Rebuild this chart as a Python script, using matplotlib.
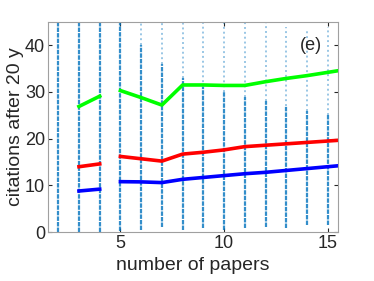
import numpy as np
import matplotlib
matplotlib.use('Agg')
import matplotlib.pyplot as plt

plt.rcParams['font.family'] = ['Liberation Sans', 'DejaVu Sans']

# number of papers for the three curves (gap between 4 and 5)
papers = [3, 4, np.nan, 5, 6, 7, 8, 9, 10, 11, 12, 13, 14, 15, 16]
top_curve = [26.9, 29.1, np.nan, 30.3, 28.8, 27.2, 31.5, 31.5, 31.4, 31.4, 32.2, 32.9, 33.5, 34.2, 34.9]
mid_curve = [14.0, 14.6, np.nan, 16.2, 15.7, 15.2, 16.7, 17.1, 17.6, 18.3, 18.6, 18.9, 19.2, 19.5, 19.8]
low_curve = [8.8, 9.2, np.nan, 10.8, 10.75, 10.6, 11.3, 11.7, 12.1, 12.5, 12.8, 13.2, 13.6, 14.0, 14.4]

# scatter columns: dense part and sparse upper part
col_x = [2, 3, 4, 5, 6, 7, 8, 9, 10, 11, 12, 13, 14, 15]
dense_top = [45, 45, 45, 45, 40, 36, 33, 31, 30, 29, 28, 27, 26, 25]
sparse_top = [45, 45, 45, 45, 45, 45, 45, 45, 45, 45, 45, 44, 43, 44]
col_bottom = [0, 0, 0, 0.3, 0.5, 1.0, 0.5, 0.8, 0.5, 0.8, 1.0, 0.8, 1.5, 1.5]

fig = plt.figure(figsize=(3.74, 2.81), dpi=100)
ax = fig.add_axes([0.128, 0.174, 0.776, 0.748])

dot_color = '#0072BD'
ax.vlines(col_x, col_bottom, dense_top, colors=dot_color, linewidth=1.6,
          linestyles=(0, (2, 0.5)), alpha=0.8)
ax.vlines(col_x, dense_top, sparse_top, colors=dot_color, linewidth=1.4,
          linestyles=(0, (1, 1.5)), alpha=0.4)

ax.plot(papers, top_curve, color=(0, 1, 0), linewidth=2.6)
ax.plot(papers, mid_curve, color=(1, 0, 0), linewidth=2.6)
ax.plot(papers, low_curve, color=(0, 0, 1), linewidth=2.6)

ax.set_xlim(1.5, 15.5)
ax.set_ylim(0, 45)
ax.set_xticks([5, 10, 15])
ax.set_yticks([0, 10, 20, 30, 40])
ax.tick_params(direction='in', top=True, right=True, labelsize=13,
               length=3, pad=2, color='#262626', labelcolor='#262626')
for s in ax.spines.values():
    s.set_color('#a0a0a0')
    s.set_linewidth(0.8)

ax.set_xlabel('number of papers', fontsize=14, color='#262626', labelpad=4)
ax.set_ylabel('citations after 20 y', fontsize=14, color='#262626', labelpad=1)
ax.text(0.905, 0.89, '(e)', transform=ax.transAxes, ha='center', va='center',
        fontsize=13, color='#262626')

fig.savefig('out.png', dpi=100)
